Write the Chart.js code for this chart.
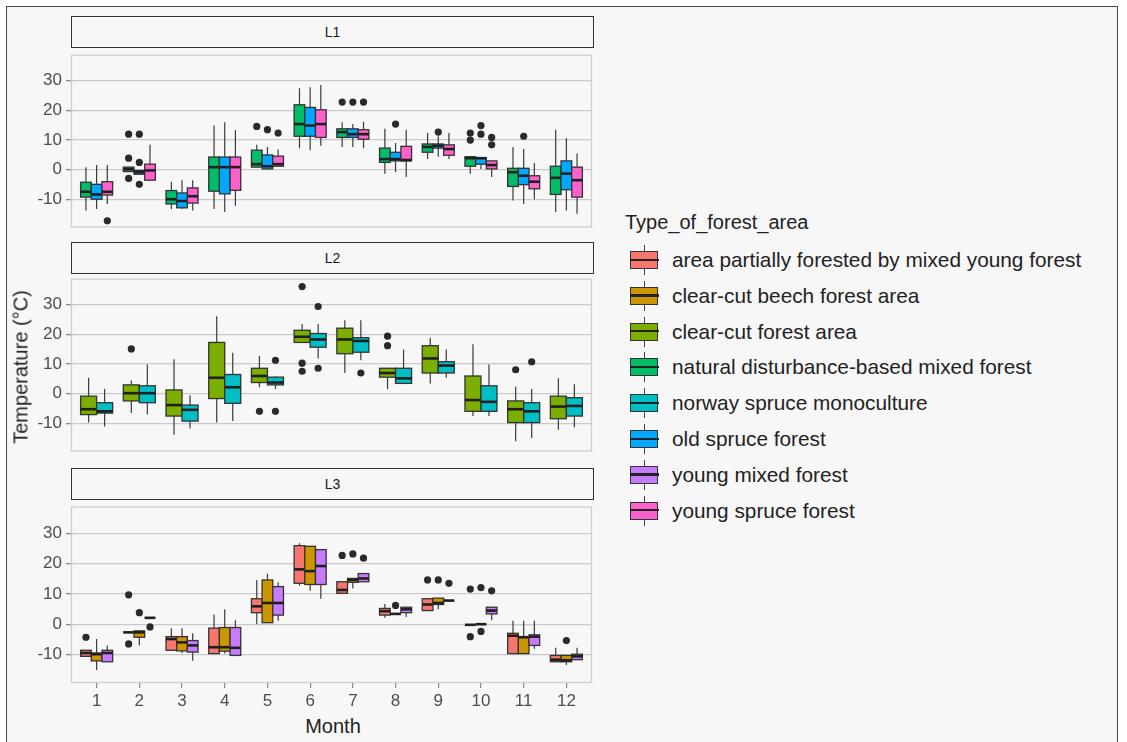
<!DOCTYPE html>
<html>
<head>
<meta charset="utf-8">
<script src="https://cdn.jsdelivr.net/npm/chart.js@4.4.1/dist/chart.umd.min.js"></script>
<style>
  html, body { margin: 0; padding: 0; background: #ffffff; }
  body { width: 1127px; height: 742px; position: relative; overflow: hidden; font-family: "Liberation Sans", Arial, sans-serif; }
  #frame { position: absolute; left: 6px; top: 6px; width: 1110px; height: 760px; border: 1.5px solid #4a4a4a; background: #f7f7f7; }
  canvas.panel { position: absolute; left: 0; }
  .strip { position: absolute; left: 71px; width: 521px; height: 30px; border: 1.6px solid #333; background: #f7f7f7;
           font-size: 14px; color: #1a1a1a; text-align: center; line-height: 30px; }
  #ytitle { position: absolute; left: 21px; top: 367px; transform: translate(-50%, -50%) rotate(-90deg); font-size: 20px; color: #222; white-space: nowrap; }
  #xtitle { position: absolute; left: 333px; top: 726px; transform: translate(-50%, -50%); font-size: 20px; color: #222; white-space: nowrap; }
  #legend-title { position: absolute; left: 625px; top: 222px; transform: translateY(-50%); font-size: 20px; color: #222; white-space: nowrap; }
  .leg-item { position: absolute; left: 630px; height: 30px; transform: translateY(-50%); }
  .leg-key { position: absolute; left: 0; top: 0; width: 28px; height: 30px; }
  .leg-key .wh { position: absolute; left: 13.5px; top: 0; width: 1.2px; height: 30px; background: #444; }
  .leg-key .bx { position: absolute; left: 0; top: 6px; width: 26px; height: 16px; border: 1.3px solid #333; }
  .leg-key .md { position: absolute; left: 0; top: 13.5px; width: 28.6px; height: 2.4px; background: #222; }
  .leg-label { position: absolute; left: 42px; top: 15px; transform: translateY(-50%); font-size: 20.8px; color: #222; white-space: nowrap; }
</style>
</head>
<body>
<div id="frame"></div>

<div class="strip" style="top:16px">L1</div>
<div class="strip" style="top:242px">L2</div>
<div class="strip" style="top:468px">L3</div>

<canvas class="panel" id="p1" width="600" height="180" style="top:51px"></canvas>
<canvas class="panel" id="p2" width="600" height="180" style="top:275px"></canvas>
<canvas class="panel" id="p3" width="600" height="210" style="top:503px"></canvas>

<div id="ytitle">Temperature (°C)</div>
<div id="xtitle">Month</div>
<div id="legend-title">Type_of_forest_area</div>
<div id="legend"></div>

<script>
// ---- categories and tick labels ----
const MONTHS = [1, 2, 3, 4, 5, 6, 7, 8, 9, 10, 11, 12];
const Y_TICKS = [-10, 0, 10, 20, 30];

const FOREST_TYPES = [
  "area partially forested by mixed young forest",
  "clear-cut beech forest area",
  "clear-cut forest area",
  "natural disturbance-based mixed forest",
  "norway spruce monoculture",
  "old spruce forest",
  "young mixed forest",
  "young spruce forest"
];
const TYPE_COLORS = ["#F8766D", "#CD9600", "#7CAE00", "#00BE67", "#00BFC4", "#00A9FF", "#C77CFF", "#FF61CC"];

// ---- box statistics per month: [lower whisker, Q1, median, Q3, upper whisker] ----
// L1
const L1_natural = [
  [-13.7, -9.2, -7.4, -4.2, 0.9], [-0.6, -0.6, 0.2, 0.9, 0.9], [-13.2, -11.5, -9.9, -7.0, -4.0],
  [-13.2, -7.2, 0.9, 4.3, 14.9], [0.9, 0.9, 1.9, 6.6, 8.4], [7.3, 11.3, 15.4, 21.9, 27.5],
  [7.7, 10.9, 12.7, 13.8, 16.0], [-1.3, 2.5, 3.6, 7.3, 13.8], [3.6, 5.9, 7.7, 8.7, 12.4],
  [-1.3, 1.2, 3.9, 4.4, 4.4], [-10.3, -5.6, -0.8, 0.5, 7.7], [-14.2, -8.3, -2.7, 1.2, 13.5]
];
const L1_natural_out = [[2, 12.0], [2, 3.9], [2, -2.9], [5, 14.6], [7, 22.8], [10, 12.4], [10, 10.0]];

const L1_oldSpruce = [
  [-13.2, -9.9, -8.3, -4.9, 1.6], [-1.5, -1.5, -0.8, -0.2, -0.2], [-13.2, -12.8, -10.5, -7.8, -3.5],
  [-14.2, -8.1, 0.9, 4.3, 16.0], [0.2, 0.3, 1.2, 5.0, 7.7], [6.6, 11.3, 14.9, 21.0, 27.8],
  [7.7, 10.9, 12.0, 13.8, 15.4], [-0.7, 3.0, 3.6, 5.9, 9.0], [4.4, 7.3, 8.1, 8.7, 11.3],
  [0.3, 1.9, 3.9, 4.1, 4.1], [-11.5, -5.0, -2.0, 0.5, 7.0], [-13.7, -6.7, -1.3, 3.0, 10.6]
];
const L1_oldSpruce_out = [[2, 12.0], [2, 2.5], [2, -4.9], [5, 13.5], [7, 22.8], [8, 15.4], [9, 12.7], [10, 14.9], [10, 12.0], [11, 11.3]];

const L1_youngSpruce = [
  [-11.5, -8.5, -7.4, -4.0, 1.6], [-3.5, -3.5, -0.2, 1.9, 8.4], [-13.7, -11.2, -8.9, -6.1, -3.5],
  [-12.1, -6.9, 0.9, 4.3, 13.3], [1.2, 1.2, 1.9, 4.6, 6.8], [8.1, 10.9, 15.4, 20.2, 28.6],
  [7.3, 10.3, 12.0, 13.5, 16.2], [-2.4, 3.0, 3.3, 7.9, 13.5], [3.6, 4.9, 7.0, 8.4, 12.4],
  [-2.4, 0.3, 1.6, 3.0, 3.0], [-9.9, -6.4, -4.0, -2.0, 2.3], [-14.8, -9.2, -3.5, 0.9, 5.5]
];
const L1_youngSpruce_out = [[1, -17.2], [5, 12.4], [7, 22.8], [10, 10.9], [10, 8.4]];

// L2
const L2_clearCut = [
  [-9.7, -7.0, -5.2, -0.8, 5.4], [-6.5, -2.4, 0.2, 3.0, 4.5], [-13.8, -7.5, -3.8, 1.3, 11.6],
  [-9.7, -1.6, 5.4, 17.3, 26.1], [2.2, 3.8, 6.0, 8.6, 12.7], [17.3, 17.3, 19.2, 21.4, 23.5],
  [7.0, 13.5, 18.3, 22.1, 24.8], [1.6, 5.6, 7.0, 8.6, 8.6], [3.5, 7.0, 11.9, 16.2, 18.9],
  [-7.5, -5.9, -2.1, 6.0, 16.7], [-16.0, -9.7, -5.2, -2.4, 2.4], [-12.1, -8.4, -4.3, -0.8, 5.2]
];
const L2_clearCut_out = [[2, 15.1], [5, -5.9], [6, 36.1], [6, 10.3], [6, 7.6], [8, 19.4], [8, 16.2], [11, 8.1]];

const L2_norwaySpruce = [
  [-11.0, -6.5, -5.9, -3.0, 1.6], [-7.0, -3.0, 0.2, 2.7, 9.9], [-11.7, -9.2, -5.4, -3.8, -0.5],
  [-9.2, -3.2, 2.2, 6.5, 13.8], [1.6, 3.0, 3.8, 5.6, 5.9], [11.9, 15.7, 18.3, 20.3, 23.5],
  [11.3, 14.0, 17.8, 18.9, 24.8], [3.5, 3.5, 5.2, 8.6, 14.9], [5.4, 7.0, 9.5, 10.8, 14.9],
  [-7.5, -5.9, -2.7, 2.7, 9.9], [-14.9, -9.7, -5.9, -3.0, 1.6], [-11.3, -7.5, -4.1, -1.3, 3.2]
];
const L2_norwaySpruce_out = [[5, 11.3], [5, -5.9], [6, 29.4], [6, 8.6], [7, 7.0], [11, 10.8]];

// L3
const L3_partial = [
  [-10.6, -10.6, -9.5, -8.6, -8.6], [-2.7, -2.7, -2.7, -2.7, -2.7], [-8.6, -8.6, -4.9, -4.1, -1.3],
  [-9.7, -9.7, -7.6, -1.3, 3.2], [0.0, 3.8, 5.9, 8.4, 14.6], [12.7, 13.5, 18.1, 25.9, 26.7],
  [10.2, 10.2, 11.3, 14.0, 14.0], [2.1, 3.0, 4.3, 5.2, 6.7], [4.5, 4.5, 6.5, 8.4, 8.4],
  [-0.2, -0.2, -0.2, -0.2, -0.2], [-9.7, -9.7, -3.8, -3.0, 1.1], [-12.4, -12.4, -11.7, -10.3, -7.8]
];
const L3_partial_out = [[1, -4.3], [2, 9.7], [2, -6.5], [7, 22.7], [9, 14.6], [10, 11.6], [10, -4.1]];

const L3_beech = [
  [-15.1, -12.1, -9.9, -9.5, -4.9], [-7.0, -4.3, -2.7, -2.2, -2.2], [-9.5, -8.8, -6.0, -4.1, -1.3],
  [-9.7, -8.9, -7.6, -1.1, 4.9], [0.5, 0.5, 7.0, 14.6, 16.7], [11.0, 13.1, 17.5, 25.7, 25.7],
  [11.8, 13.8, 14.6, 15.1, 15.1], [3.4, 3.4, 3.4, 3.4, 3.4], [4.9, 6.5, 7.0, 8.6, 8.6],
  [0.0, 0.0, 0.0, 0.0, 0.0], [-9.7, -9.7, -4.3, -4.1, 1.1], [-13.5, -12.4, -11.9, -10.3, -10.3]
];
const L3_beech_out = [[2, 3.8], [7, 23.2], [8, 6.2], [9, 14.6], [10, 12.1], [10, -2.4], [12, -5.4]];

const L3_youngMixed = [
  [-12.4, -12.4, -9.5, -8.6, -7.0], [2.1, 2.1, 2.1, 2.1, 2.1], [-12.1, -9.2, -7.0, -5.4, -3.0],
  [-10.3, -10.3, -7.8, -1.1, 1.3], [1.1, 3.0, 7.0, 12.4, 13.8], [8.4, 13.1, 19.2, 24.6, 24.6],
  [14.0, 14.0, 15.1, 16.7, 16.7], [2.4, 3.8, 4.9, 5.6, 5.6], [7.8, 7.8, 7.8, 7.8, 7.8],
  [1.3, 3.4, 4.5, 5.6, 5.6], [-8.1, -7.0, -4.1, -3.5, 1.1], [-11.7, -11.7, -10.6, -9.9, -7.8]
];
const L3_youngMixed_out = [[2, -0.9], [7, 21.8], [9, 13.5], [10, 11.0]];

// ---- facets: which forest types appear in each site panel ----
const PANELS = [
  { canvas: "p1", groups: [[3, L1_natural, L1_natural_out], [5, L1_oldSpruce, L1_oldSpruce_out], [7, L1_youngSpruce, L1_youngSpruce_out]] },
  { canvas: "p2", groups: [[2, L2_clearCut, L2_clearCut_out], [4, L2_norwaySpruce, L2_norwaySpruce_out]] },
  { canvas: "p3", groups: [[0, L3_partial, L3_partial_out], [1, L3_beech, L3_beech_out], [6, L3_youngMixed, L3_youngMixed_out]], bottom: true }
];

const Y_MIN = -19.4, Y_MAX = 38.8;
const DODGE = 0.75;
const FONT = '"Liberation Sans", Arial, sans-serif';
const PANEL_BG = "#f7f7f7";

function groupOffset(i, n) {
  const w = DODGE / n;
  return { w: w, off: (i - (n - 1) / 2) * w };
}

// draws panel background, border and the boxplots via the chart's scales
const boxplotPlugin = {
  id: "boxplots",
  beforeDraw(chart) {
    const a = chart.chartArea, ctx = chart.ctx;
    ctx.save();
    ctx.fillStyle = PANEL_BG;
    ctx.fillRect(a.left, a.top, a.right - a.left, a.bottom - a.top);
    ctx.restore();
  },
  beforeDatasetsDraw(chart) {
    const groups = chart.options.plugins.boxplots.groups;
    const xs = chart.scales.x, ys = chart.scales.y, ctx = chart.ctx;
    const a = chart.chartArea;
    ctx.save();
    ctx.strokeStyle = "#cfcfcf";
    ctx.lineWidth = 1.3;
    ctx.strokeRect(a.left + 0.5, a.top + 0.5, a.right - a.left - 1, a.bottom - a.top - 1);
    const n = groups.length;
    groups.forEach(([typeIdx, stats], gi) => {
      const { w, off } = groupOffset(gi, n);
      stats.forEach((s, mi) => {
        const c = MONTHS[mi] + off;
        const xl = xs.getPixelForValue(c - w / 2), xr = xs.getPixelForValue(c + w / 2);
        const xc = xs.getPixelForValue(c);
        const [lo, q1, md, q3, hi] = s.map(v => ys.getPixelForValue(v));
        // whiskers
        ctx.strokeStyle = "#3a3a3a";
        ctx.lineWidth = 1.2;
        ctx.beginPath();
        ctx.moveTo(xc, hi); ctx.lineTo(xc, q3);
        ctx.moveTo(xc, q1); ctx.lineTo(xc, lo);
        ctx.stroke();
        // box
        ctx.fillStyle = TYPE_COLORS[typeIdx];
        ctx.fillRect(xl, q3, xr - xl, q1 - q3);
        ctx.strokeStyle = "#333333";
        ctx.lineWidth = 1.3;
        ctx.strokeRect(xl, q3, xr - xl, q1 - q3);
        // median
        ctx.strokeStyle = "#1f1f1f";
        ctx.lineWidth = 2.6;
        ctx.beginPath();
        ctx.moveTo(xl, md); ctx.lineTo(xr, md);
        ctx.stroke();
      });
    });
    ctx.restore();
  }
};

PANELS.forEach(panel => {
  const n = panel.groups.length;
  const datasets = panel.groups.map(([typeIdx, stats, outs], gi) => {
    const { off } = groupOffset(gi, n);
    return {
      label: FOREST_TYPES[typeIdx],
      data: outs.map(([m, v]) => ({ x: m + off, y: v })),
      pointRadius: 3.6,
      pointBackgroundColor: "#2a2a2a",
      pointBorderWidth: 0,
      pointHoverRadius: 3.6
    };
  });

  new Chart(document.getElementById(panel.canvas), {
    type: "scatter",
    data: { datasets: datasets },
    options: {
      responsive: false,
      animation: false,
      devicePixelRatio: 1,
      events: [],
      layout: { padding: { left: 0, right: 8, top: 0, bottom: 0 } },
      plugins: {
        legend: { display: false },
        tooltip: { enabled: false },
        boxplots: { groups: panel.groups }
      },
      scales: {
        x: {
          type: "linear",
          min: 0.4,
          max: 12.6,
          display: !!panel.bottom,
          afterBuildTicks: s => { s.ticks = MONTHS.map(v => ({ value: v })); },
          afterFit: s => {
            s.height = panel.bottom ? 30 : 0;
            s.paddingLeft = 0; s.paddingRight = 0;
          },
          grid: { drawOnChartArea: false, drawTicks: true, tickLength: 5, color: "#8a8a8a", lineWidth: 1.2 },
          border: { display: false },
          ticks: { autoSkip: false, maxRotation: 0, padding: 3, color: "#4d4d4d", font: { family: FONT, size: 17 } }
        },
        y: {
          type: "linear",
          min: Y_MIN,
          max: Y_MAX,
          afterBuildTicks: s => { s.ticks = Y_TICKS.map(v => ({ value: v })); },
          afterFit: s => {
            s.width = 71;
            s.paddingTop = 0; s.paddingBottom = 0;
          },
          grid: { color: "#c9c9c9", lineWidth: 1.3, drawTicks: true, tickLength: 5, tickColor: "#8a8a8a" },
          border: { display: false },
          ticks: { padding: 4, color: "#4d4d4d", font: { family: FONT, size: 17 } }
        }
      }
    },
    plugins: [boxplotPlugin]
  });
});

// legend keys for each forest type
const legend = document.getElementById("legend");
FOREST_TYPES.forEach((name, i) => {
  const item = document.createElement("div");
  item.className = "leg-item";
  item.style.top = (260 + i * 35.8) + "px";
  item.innerHTML =
    '<div class="leg-key"><div class="wh"></div><div class="bx" style="background:' + TYPE_COLORS[i] + '"></div><div class="md"></div></div>' +
    '<div class="leg-label">' + name + '</div>';
  legend.appendChild(item);
});
</script>
</body>
</html>
